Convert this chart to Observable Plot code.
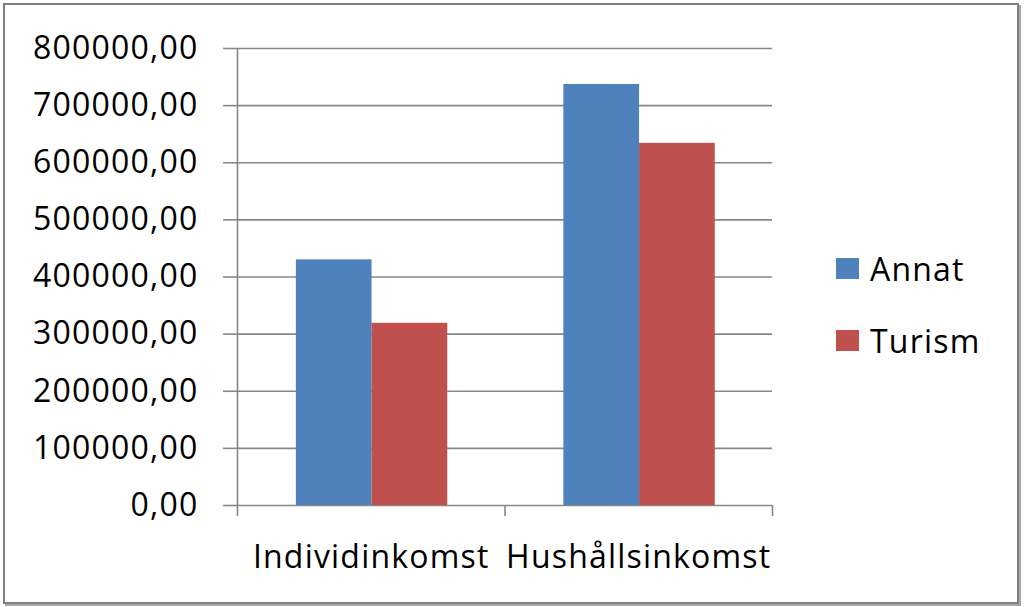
<!DOCTYPE html>
<html>
<head>
<meta charset="utf-8">
<script src="https://cdn.jsdelivr.net/npm/d3@7"></script>
<script src="https://cdn.jsdelivr.net/npm/@observablehq/plot@0.6"></script>
<style>
  body { margin: 0; background: #fff; }
  #wrap { position: relative; width: 1024px; height: 607px; background: #fff; overflow: hidden; font-family: "Open Sans", sans-serif; }
  #chart { position: absolute; left: 0; top: 0; }
  #chart svg text { letter-spacing: 1.2px; }
  #frame { position: absolute; left: 3px; top: 3px; width: 1012px; height: 597px; border: 2px solid #7f7f7f; box-shadow: 2px 2px 0 #a8a8a8; pointer-events: none; }
  #legend { position: absolute; left: 836px; top: 248px; font-size: 32px; letter-spacing: 1.2px; color: #000; }
  .item { display: flex; align-items: center; height: 40px; margin-bottom: 32px; }
  .sw { width: 23px; height: 21px; margin-right: 11px; }
</style>
</head>
<body>
<div id="wrap">
  <div id="chart"></div>
  <div id="legend"></div>
  <div id="frame"></div>
</div>
<script>
const categories = ["Individinkomst", "Hushållsinkomst"];
const series = ["Annat", "Turism"];
const annat = [430000, 737000];
const turism = [319000, 634000];
const colors = ["#4F81BD", "#C0504D"];
const yTicks = [0, 100000, 200000, 300000, 400000, 500000, 600000, 700000, 800000];

const seriesValues = [annat, turism];
const rows = categories.flatMap((c, i) =>
  series.map((s, j) => ({category: c, series: s, index: i, sIndex: j, value: seriesValues[j][i]}))
);

// group layout within each category slot (fractions of slot)
const groupOffset = 0.22;
const barWidth = 0.283;

const gray = "#878787";

const chart = Plot.plot({
  width: 1024,
  height: 607,
  marginLeft: 237,
  marginRight: 252,
  marginTop: 48,
  marginBottom: 102,
  style: {background: "transparent", fontFamily: "'Open Sans', sans-serif", fontSize: "32px", color: "#000"},
  x: {type: "linear", domain: [0, categories.length]},
  y: {domain: [0, 800000]},
  color: {domain: series, range: colors},
  marks: [
    Plot.ruleY(yTicks, {stroke: gray, strokeWidth: 1.6}),
    Plot.ruleX([0], {stroke: gray, strokeWidth: 1.6}),
    Plot.axisY({ticks: yTicks, tickSize: 14, tickPadding: 25, tickFormat: d => d + ",00",
      label: null, stroke: gray, strokeWidth: 1.6, fontSize: 32, fill: "#000", strokeOpacity: 1}),
    Plot.axisX({ticks: d3.range(categories.length + 1), tickSize: 11, tickFormat: () => "",
      label: null, stroke: gray, strokeWidth: 1.6, strokeOpacity: 1}),
    Plot.rectY(rows, {
      x1: d => d.index + groupOffset + d.sIndex * barWidth,
      x2: d => d.index + groupOffset + (d.sIndex + 1) * barWidth,
      y: "value",
      fill: "series"
    }),
    Plot.text(categories, {x: (d, i) => i + 0.5, frameAnchor: "bottom", dy: 52,
      text: d => d, fontSize: 32, fill: "#000", textAnchor: "middle", lineAnchor: "middle"})
  ]
});
document.getElementById("chart").appendChild(chart);

const legend = document.getElementById("legend");
series.forEach((s, j) => {
  const item = document.createElement("div");
  item.className = "item";
  const sw = document.createElement("div");
  sw.className = "sw";
  sw.style.background = colors[j];
  const label = document.createElement("span");
  label.textContent = s;
  item.appendChild(sw);
  item.appendChild(label);
  legend.appendChild(item);
});
</script>
</body>
</html>
